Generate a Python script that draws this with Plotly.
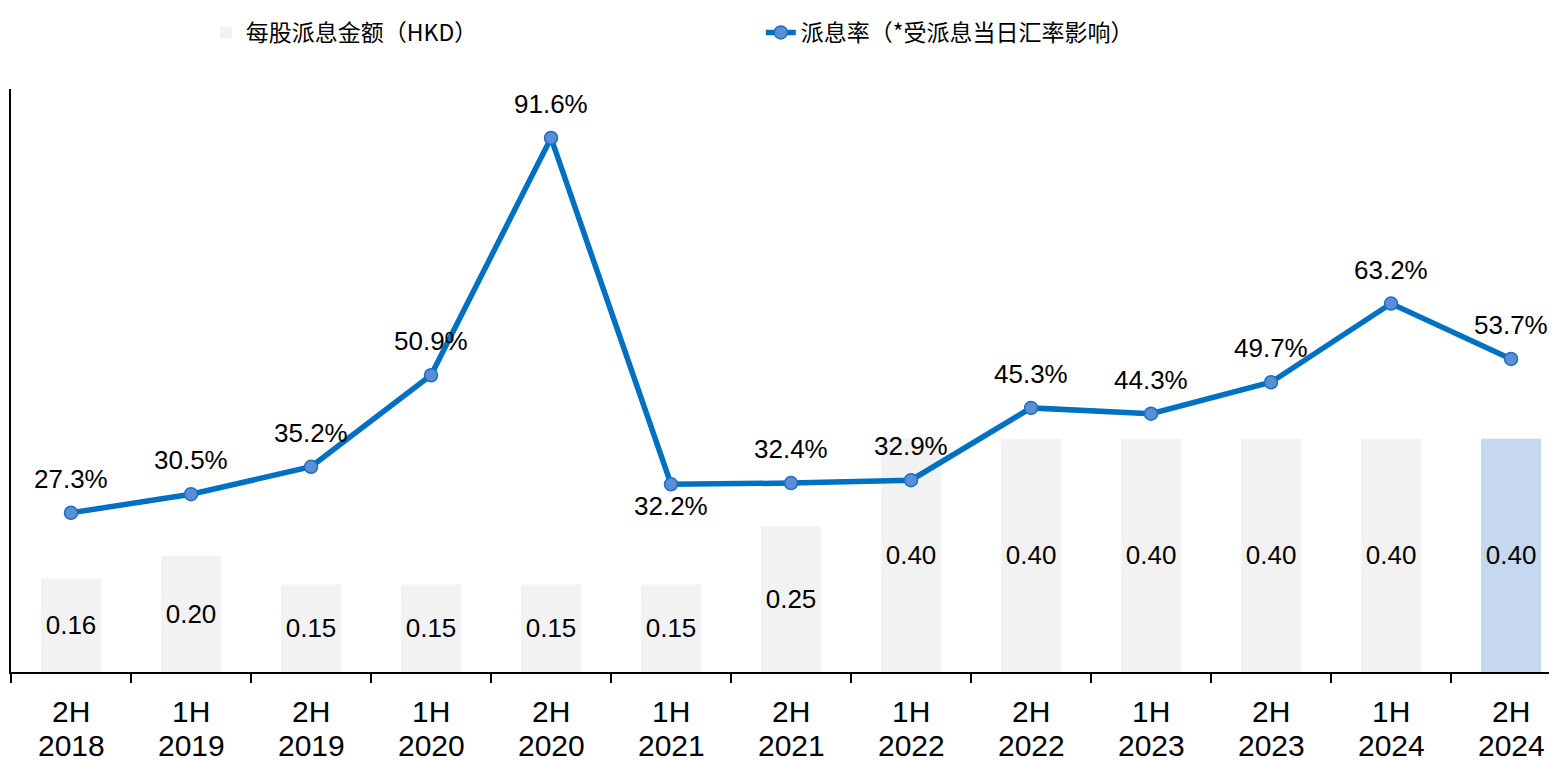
import plotly.graph_objects as go

halves = ["2H", "1H", "2H", "1H", "2H", "1H", "2H", "1H", "2H", "1H", "2H", "1H", "2H"]
years = ["2018", "2019", "2019", "2020", "2020", "2021", "2021", "2022", "2022", "2023", "2023", "2024", "2024"]
dps = [0.16, 0.20, 0.15, 0.15, 0.15, 0.15, 0.25, 0.40, 0.40, 0.40, 0.40, 0.40, 0.40]
payout = [0.273, 0.305, 0.352, 0.509, 0.916, 0.322, 0.324, 0.329, 0.453, 0.443, 0.497, 0.632, 0.537]
payout_labels = ["27.3%", "30.5%", "35.2%", "50.9%", "91.6%", "32.2%", "32.4%", "32.9%",
                 "45.3%", "44.3%", "49.7%", "63.2%", "53.7%"]
label_below = [False, False, False, False, False, True, False, False, False, False, False, False, False]

bar_name = "每股派息金额（HKD）"
line_name = "派息率（*受派息当日汇率影响）"

FONT = "Liberation Sans, Arial, Noto Sans CJK SC, sans-serif"
cats = list(range(len(dps)))
bar_colors = ["#f2f2f2"] * (len(dps) - 1) + ["#c6d8ef"]

fig = go.Figure()
fig.add_trace(go.Bar(
    x=cats, y=dps, name=bar_name,
    marker=dict(color=bar_colors, line=dict(width=0)),
    width=0.5,
    text=[f"{v:.2f}" for v in dps],
    textposition="inside", insidetextanchor="middle", textangle=0,
    constraintext="none",
    textfont=dict(size=26, color="#000000", family=FONT),
    hoverinfo="skip",
))
fig.add_trace(go.Scatter(
    x=cats, y=payout, name=line_name, yaxis="y2",
    mode="lines+markers",
    line=dict(color="#0070c0", width=5.5),
    marker=dict(size=13, color="#5b8ed6", line=dict(color="#1f6fc0", width=1.5)),
    hoverinfo="skip",
))

annotations = []
for i, (lab, v, below) in enumerate(zip(payout_labels, payout, label_below)):
    annotations.append(dict(
        x=i, y=v, xref="x", yref="y2", text=lab, showarrow=False,
        yanchor="middle", yshift=-22 if below else 34,
        font=dict(size=26, color="#000000", family=FONT),
    ))
for i, (h, yr) in enumerate(zip(halves, years)):
    annotations.append(dict(
        x=i, y=0, xref="x", yref="paper", text=h, showarrow=False,
        yanchor="top", yshift=-21,
        font=dict(size=30, color="#000000", family=FONT),
    ))
    annotations.append(dict(
        x=i, y=0, xref="x", yref="paper", text=yr, showarrow=False,
        yanchor="top", yshift=-55,
        font=dict(size=30, color="#000000", family=FONT),
    ))

fig.update_layout(
    width=1557, height=761,
    margin=dict(l=3, r=8, t=76, b=97),
    plot_bgcolor="white", paper_bgcolor="white",
    font=dict(family=FONT, color="#000000"),
    showlegend=True,
    legend=dict(
        orientation="h", x=0.126, xanchor="left", y=1.097, yanchor="middle",
        font=dict(size=23, family="Noto Sans CJK SC, Liberation Sans, sans-serif", color="#000000"),
        entrywidth=510, entrywidthmode="pixels",
        bgcolor="rgba(0,0,0,0)",
    ),
    xaxis=dict(
        type="linear", range=[-0.5, 12.383],
        showgrid=False, zeroline=False,
        showline=True, linecolor="#000000", linewidth=1.5,
        tickmode="array", tickvals=[i - 0.5 for i in range(len(dps) + 1)],
        ticks="outside", ticklen=9, tickwidth=1.5, tickcolor="#000000",
        showticklabels=False,
    ),
    yaxis=dict(
        range=[0, 1.0], showgrid=False, zeroline=False,
        showline=True, linecolor="#000000", linewidth=1.5,
        ticks="", showticklabels=False,
    ),
    yaxis2=dict(
        range=[0, 1.0], overlaying="y", side="right",
        showgrid=False, zeroline=False, showline=False,
        ticks="", showticklabels=False,
    ),
    annotations=annotations,
    bargap=0.5,
)

fig.write_html("out.html")
